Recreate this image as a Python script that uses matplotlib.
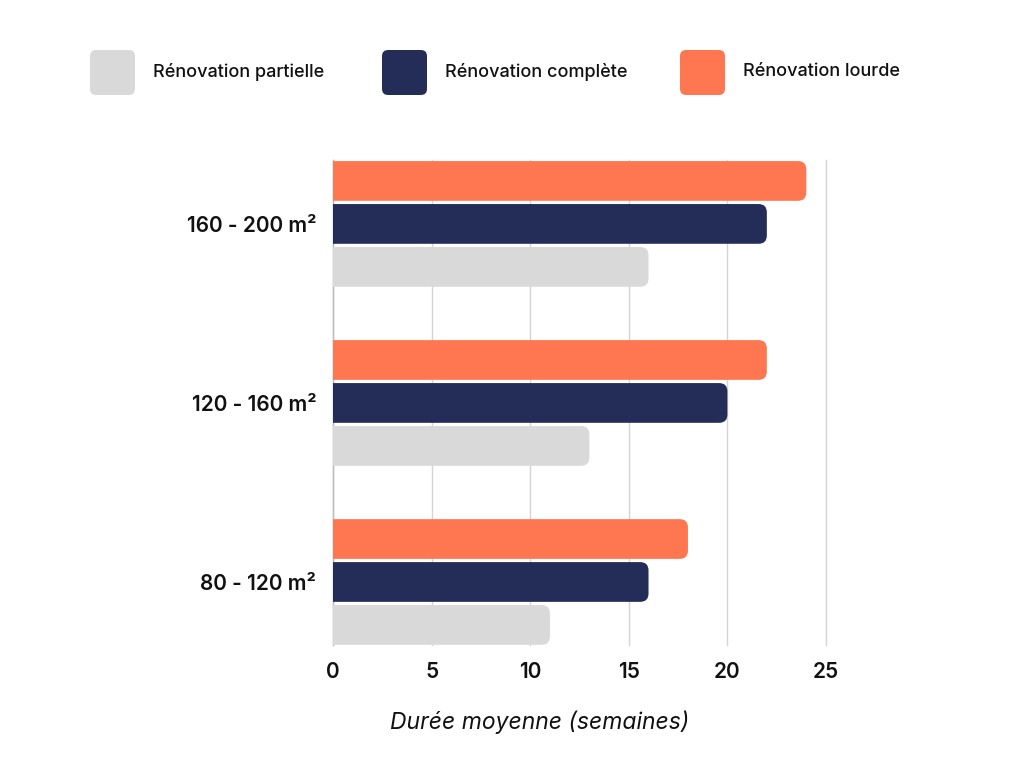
import matplotlib
matplotlib.use("Agg")
import matplotlib.pyplot as plt
from matplotlib.patches import FancyBboxPatch

# data
categories = ["80 - 120 m²", "120 - 160 m²", "160 - 200 m²"]
series = ["Rénovation partielle", "Rénovation complète", "Rénovation lourde"]
partielle = [11, 13, 16]
complete = [16, 20, 22]
lourde = [18, 22, 24]
colors = ["#d9d9d9", "#242c58", "#ff7750"]
xticks = [0, 5, 10, 15, 20, 25]

plt.rcParams['font.family'] = ['Inter', 'DejaVu Sans']

fig = plt.figure(figsize=(10.24, 7.68), dpi=100)
ax = fig.add_axes([333/1024, 1 - 645/768, (826 - 333)/1024, (645 - 160)/768])

ax.set_xlim(0, 25)
ax.set_ylim(-0.352, 2.357)

bar_h = 0.222
pitch = 0.24
# px per data unit, for round corners
px_x = (826 - 333) / 25
px_y = (645 - 160) / (2.357 + 0.352)
aspect = px_x / px_y

values = [partielle, complete, lourde]
offsets = [-pitch, 0, pitch]
for vals, col, off in zip(values, colors, offsets):
    for i, v in enumerate(vals):
        y = i + off - bar_h / 2
        # start left of 0 so the clipped left side stays square
        p = FancyBboxPatch((-1, y), v + 1, bar_h,
                           boxstyle="round,pad=0,rounding_size=0.42",
                           mutation_aspect=aspect,
                           facecolor=col, edgecolor="none", zorder=3)
        ax.add_patch(p)

ax.set_xticks(xticks)
ax.set_xticklabels([str(t) for t in xticks], fontsize=15, fontweight='semibold')
ax.set_yticks(range(len(categories)))
ax.set_yticklabels(categories, fontsize=15, fontweight='semibold')
ax.tick_params(axis='both', length=0, colors='#111111')
ax.tick_params(axis='x', pad=12)
ax.tick_params(axis='y', pad=12)

ax.grid(axis='x', color='#d4d4d4', linewidth=1, zorder=0)
for gl in ax.get_xgridlines():
    gl.set_clip_on(False)
ax.set_axisbelow(True)
for s in ['top', 'right', 'bottom']:
    ax.spines[s].set_visible(False)
ax.spines['left'].set_color('#bbbbbb')
ax.spines['left'].set_linewidth(1)

fig.text(540/1024, 1 - 722/768, "Durée moyenne (semaines)", fontsize=16.5,
         style='italic', color='#111111', ha='center', va='center')

# legend drawn by hand
sw_x = [90, 382, 680]
for name, col, x in zip(series, colors, sw_x):
    box = FancyBboxPatch((x/1024, 1 - 95/768), 45/1024, 45/768,
                         boxstyle="round,pad=0,rounding_size=0.006",
                         mutation_aspect=1024/768,
                         transform=fig.transFigure, facecolor=col,
                         edgecolor='none')
    fig.add_artist(box)
    fig.text((x + 63)/1024, 1 - 72/768, name, fontsize=13,
             fontweight='medium', va='center', ha='left', color='#111111')

fig.savefig("out.png", dpi=100, facecolor='white')
